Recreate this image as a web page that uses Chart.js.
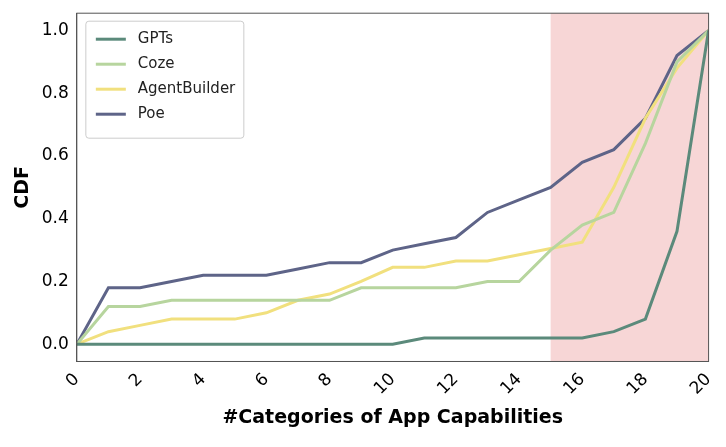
<!DOCTYPE html>
<html><head><meta charset="utf-8">
<script src="https://cdn.jsdelivr.net/npm/chart.js@4/dist/chart.umd.min.js"></script>
<style>body{margin:0;background:#fff}#wrap{width:726px;height:447px}</style>
</head><body><div id="wrap"><canvas id="c"></canvas></div>
<script>
const xs = [0,1,2,3,4,5,6,7,8,9,10,11,12,13,14,15,16,17,18,19,20];
const gpts = [0,0,0,0,0,0,0,0,0,0,0,0.02,0.02,0.02,0.02,0.02,0.02,0.04,0.08,0.36,1.0];
const coze = [0,0.12,0.12,0.14,0.14,0.14,0.14,0.14,0.14,0.18,0.18,0.18,0.18,0.2,0.2,0.3,0.38,0.42,0.64,0.9,1.0];
const agentBuilder = [0,0.04,0.06,0.08,0.08,0.08,0.1,0.14,0.16,0.2,0.245,0.245,0.265,0.265,0.285,0.305,0.325,0.5,0.72,0.88,1.0];
const poe = [0,0.18,0.18,0.2,0.22,0.22,0.22,0.24,0.26,0.26,0.3,0.32,0.34,0.42,0.46,0.5,0.58,0.62,0.72,0.92,1.0];
const shadeFrom = 15, shadeTo = 20;

const pts = arr => arr.map((y, i) => ({x: xs[i], y}));
const ds = (label, data, color) => ({label, data: pts(data), borderColor: color, backgroundColor: color,
  borderWidth: 3, pointRadius: 0, tension: 0});

const shade = {
  id: 'shade',
  beforeDatasetsDraw(chart) {
    const {ctx, chartArea: a, scales: {x}} = chart;
    ctx.save();
    ctx.fillStyle = '#f7d6d6';
    ctx.fillRect(x.getPixelForValue(shadeFrom), a.top, x.getPixelForValue(shadeTo) - x.getPixelForValue(shadeFrom), a.bottom - a.top);
    ctx.restore();
  },
  afterDraw(chart) {
    const {ctx, chartArea: a} = chart;
    ctx.save();
    ctx.strokeStyle = '#555'; ctx.lineWidth = 1;
    ctx.strokeRect(a.left, a.top, a.right - a.left, a.bottom - a.top);
    // legend box
    const bx = a.left + 9, by = a.top + 8, bw = 158, bh = 117;
    ctx.fillStyle = 'rgba(255,255,255,0.9)';
    ctx.strokeStyle = '#ccc';
    ctx.beginPath(); ctx.roundRect(bx, by, bw, bh, 3); ctx.fill(); ctx.stroke();
    ctx.font = '15px "DejaVu Sans"'; ctx.textBaseline = 'middle';
    chart.data.datasets.forEach((d, i) => {
      const y = by + 18 + i * 25;
      ctx.strokeStyle = d.borderColor; ctx.lineWidth = 3;
      ctx.beginPath(); ctx.moveTo(bx + 10, y); ctx.lineTo(bx + 40, y); ctx.stroke();
      ctx.fillStyle = '#222'; ctx.fillText(d.label, bx + 52, y);
    });
    ctx.restore();
  }
};

Chart.defaults.font.family = 'DejaVu Sans';
Chart.defaults.color = '#000';
new Chart(document.getElementById('c'), {
  type: 'line',
  data: {datasets: [
    ds('GPTs', gpts, '#5b8a7b'),
    ds('Coze', coze, '#b7d59e'),
    ds('AgentBuilder', agentBuilder, '#f1e07e'),
    ds('Poe', poe, '#5e6488')
  ]},
  options: {
    responsive: true, maintainAspectRatio: false, animation: false,
    layout: {padding: {top: 10, right: 16, left: 8, bottom: 14}},
    plugins: {tooltip: {enabled: false}, legend: {display: false}},
    scales: {
      x: {type: 'linear', min: 0, max: 20,
        grid: {display: false, tickLength: 5, tickColor: '#333'},
        border: {color: '#555'},
        ticks: {stepSize: 2, maxRotation: 45, minRotation: 45, font: {size: 17}},
        title: {display: true, text: '#Categories of App Capabilities', font: {size: 19, weight: 'bold'}}},
      y: {min: -0.055, max: 1.055,
        grid: {display: false, tickLength: 5, tickColor: '#333'},
        border: {color: '#555'},
        afterBuildTicks: s => { s.ticks = [0,0.2,0.4,0.6,0.8,1.0].map(v => ({value: v})); },
        ticks: {font: {size: 17}, callback: v => v.toFixed(1)},
        title: {display: true, text: 'CDF', font: {size: 19, weight: 'bold'}}}
    }
  },
  plugins: [shade]
});
</script></body></html>
